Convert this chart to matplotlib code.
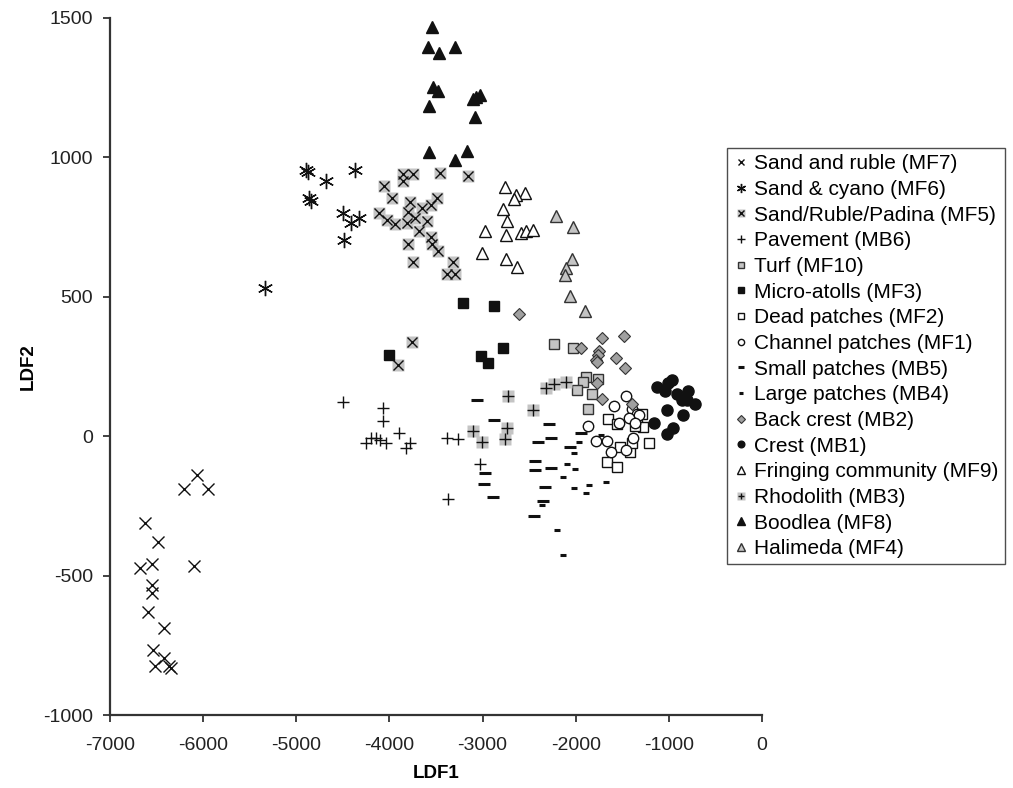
import matplotlib
matplotlib.use("Agg")
import matplotlib.pyplot as plt

plt.rcParams['font.family'] = ['Liberation Sans', 'DejaVu Sans']
plt.rcParams['axes.unicode_minus'] = False

# ---- data (LDF1, LDF2) ----
mf7_x = [-6067, -6204, -5949, -6622, -6490, -6550, -6683, -6096, -6550, -6550, -6597, -6418, -6540, -6418, -6515, -6372, -6347]
mf7_y = [-140, -190, -190, -313, -379, -457, -472, -466, -532, -562, -630, -688, -768, -795, -824, -824, -830]

mf6_x = [-4894, -4870, -4680, -4365, -4859, -4844, -4500, -4415, -4325, -4483, -5334]
mf6_y = [954, 948, 916, 954, 853, 844, 799, 763, 781, 703, 531]

mf5_x = [-3850, -3743, -3850, -3456, -3152, -4057, -3968, -3775, -3484, -3646, -3549, -3797, -4111, -4021, -3939,
         -3814, -3724, -3599, -3678, -3803, -3553, -3545, -3474, -3750, -3320, -3384, -3295, -3759, -3910]
mf5_y = [940, 940, 916, 944, 933, 899, 856, 840, 856, 817, 829, 805, 799, 777, 760,
         763, 781, 772, 736, 689, 713, 689, 665, 625, 625, 581, 581, 338, 255]

mb6_x = [-4494, -4064, -4071, -3893, -4254, -4200, -4100, -4036, -3778, -3821, -3384, -3259, -3027, -3366, -4146]
mb6_y = [121, 102, 55, 10, -24, -8, -12, -24, -23, -41, -6, -11, -98, -226, -8]

mf10_x = [-2232, -2025, -1892, -1757, -1925, -1989, -1828, -1871]
mf10_y = [329, 315, 211, 204, 193, 165, 153, 99]

mf3_x = [-3206, -2873, -2777, -3016, -2944, -4003]
mf3_y = [478, 466, 315, 287, 261, 293]

mf2_x = [-1649, -1560, -1345, -1274, -1291, -1524, -1417, -1209, -1667, -1553, -1398, -1363]
mf2_y = [61, 45, 39, 33, 81, -38, -56, -24, -92, -110, -26, 36]

mf1_x = [-1460, -1588, -1398, -1345, -1317, -1535, -1424, -1871, -1782, -1667, -1388, -1624, -1460, -1363]
mf1_y = [143, 108, 99, 81, 75, 48, 64, 36, -18, -18, -6, -58, -48, 48]

mb5_x = [-3055, -2877, -2283, -2400, -2268, -2436, -2436, -2268, -2973, -2984, -2891, -2329, -2354, -2447, -1943, -2061]
mb5_y = [131, 57, 43, -20, -6, -89, -120, -114, -132, -171, -218, -182, -232, -286, 12, -38]

mb4_x = [-2365, -2197, -2139, -2018, -1964, -2096, -2007, -2133, -2018, -1853, -1889, -1678, -1731]
mb4_y = [-245, -335, -426, -60, -20, -98, -116, -148, -185, -176, -202, -164, 4]

mb2_x = [-2605, -1714, -1478, -1946, -1746, -1757, -1785, -1775, -1570, -1470, -1767, -1714, -1398]
mb2_y = [440, 353, 359, 317, 305, 293, 273, 265, 279, 243, 191, 133, 114]

mb1_x = [-969, -1005, -1130, -1041, -791, -916, -862, -719, -808, -1016, -844, -958, -1023, -1159]
mb1_y = [203, 191, 177, 161, 161, 151, 129, 117, 129, 93, 75, 30, 7, 46]

mf9_x = [-2758, -2544, -2644, -2662, -2777, -2734, -2973, -2748, -2587, -2533, -2455, -3008, -2748, -2626]
mf9_y = [894, 874, 864, 849, 814, 771, 735, 723, 727, 735, 739, 658, 637, 607]

mb3_x = [-2723, -2462, -2318, -2232, -3106, -3002, -2734, -2755, -2100]
mb3_y = [145, 93, 173, 189, 18, -20, 31, -11, 193]

mf8_x = [-3545, -3581, -3463, -3295, -3534, -3474, -3570, -3099, -3070, -3027, -3080, -3570, -3295, -3163]
mf8_y = [1468, 1396, 1375, 1396, 1253, 1239, 1185, 1211, 1217, 1223, 1145, 1020, 990, 1023]

mf4_x = [-2211, -2025, -2042, -2104, -2114, -2061, -1900]
mf4_y = [790, 751, 634, 604, 577, 502, 448]

labels = ["Sand and ruble (MF7)", "Sand & cyano (MF6)", "Sand/Ruble/Padina (MF5)", "Pavement (MB6)",
          "Turf (MF10)", "Micro-atolls (MF3)", "Dead patches (MF2)", "Channel patches (MF1)",
          "Small patches (MB5)", "Large patches (MB4)", "Back crest (MB2)", "Crest (MB1)",
          "Fringing community (MF9)", "Rhodolith (MB3)", "Boodlea (MF8)", "Halimeda (MF4)"]

x_ticks = [-7000, -6000, -5000, -4000, -3000, -2000, -1000, 0]
y_ticks = [-1000, -500, 0, 500, 1000, 1500]

fig = plt.figure(figsize=(10.13, 7.88), dpi=100)
ax = fig.add_axes([0.1086, 0.0926, 0.6436, 0.8846])

K = '#111111'
G = '#c4c4c4'
G2 = '#a0a0a0'
kw = dict(linestyle='none')

h = []
h.append(ax.plot(mf7_x, mf7_y, marker='x', ms=8, mew=1.0, color=K, **kw)[0])
h.append(ax.plot(mf6_x, mf6_y, marker=(6, 2, 0), ms=11, mew=1.0, color=K, **kw)[0])
a = ax.plot(mf5_x, mf5_y, marker='s', ms=8.5, mfc=G, mec='none', **kw)[0]
b = ax.plot(mf5_x, mf5_y, marker='x', ms=7, mew=1.0, color=K, **kw)[0]
h.append((a, b))
h.append(ax.plot(mb6_x, mb6_y, marker='+', ms=9, mew=1.0, color=K, **kw)[0])
h.append(ax.plot(mf10_x, mf10_y, marker='s', ms=7.5, mfc=G, mec='#333333', mew=1.0, **kw)[0])
h.append(ax.plot(mf3_x, mf3_y, marker='s', ms=6.5, mfc=K, mec=K, **kw)[0])
h.append(ax.plot(mf2_x, mf2_y, marker='s', ms=7.5, mfc='white', mec=K, mew=1.0, **kw)[0])
h.append(ax.plot(mf1_x, mf1_y, marker='o', ms=7.5, mfc='white', mec=K, mew=1.0, **kw)[0])
h.append(ax.plot(mb5_x, mb5_y, marker='_', ms=8, mew=2.2, color=K, **kw)[0])
h.append(ax.plot(mb4_x, mb4_y, marker='_', ms=4, mew=2.2, color=K, **kw)[0])
h.append(ax.plot(mb2_x, mb2_y, marker='D', ms=6.5, mfc=G2, mec='#333333', mew=0.8, **kw)[0])
h.append(ax.plot(mb1_x, mb1_y, marker='o', ms=8, mfc=K, mec=K, **kw)[0])
h.append(ax.plot(mf9_x, mf9_y, marker='^', ms=9, mfc='white', mec=K, mew=1.0, **kw)[0])
a = ax.plot(mb3_x, mb3_y, marker='s', ms=8.5, mfc=G, mec='none', **kw)[0]
b = ax.plot(mb3_x, mb3_y, marker='+', ms=8, mew=1.0, color=K, **kw)[0]
h.append((a, b))
h.append(ax.plot(mf8_x, mf8_y, marker='^', ms=9, mfc=K, mec=K, **kw)[0])
h.append(ax.plot(mf4_x, mf4_y, marker='^', ms=9, mfc=G, mec='#333333', mew=1.0, **kw)[0])

ax.set_xlim(-7000, 0)
ax.set_ylim(-1000, 1500)
ax.set_xticks(x_ticks)
ax.set_yticks(y_ticks)
ax.set_xticklabels([str(v) for v in x_ticks])
ax.set_yticklabels([str(v) for v in y_ticks])
for s in ['top', 'right']:
    ax.spines[s].set_visible(False)
for s in ['left', 'bottom']:
    ax.spines[s].set_linewidth(1.6)
    ax.spines[s].set_color('#333333')
ax.tick_params(axis='both', direction='out', length=5, width=1.3, color='#333333',
               labelsize=14, labelcolor='#222222')
ax.tick_params(axis='x', pad=11)
ax.tick_params(axis='y', pad=7)
ax.set_xlabel('LDF1', fontsize=13.5, fontweight='bold', labelpad=8)
ax.set_ylabel('LDF2', fontsize=13.5, fontweight='bold', labelpad=5)

leg = ax.legend(h, labels, loc='upper left', bbox_to_anchor=(0.7177, 0.8122),
                bbox_transform=fig.transFigure, borderaxespad=0, fontsize=15,
                markerscale=0.6, handlelength=0.7, handletextpad=0.3,
                labelspacing=0.32, borderpad=0.3, frameon=True, fancybox=False)
leg.get_frame().set_edgecolor('#222222')
leg.get_frame().set_linewidth(1.0)

fig.savefig('out.png', dpi=100)
